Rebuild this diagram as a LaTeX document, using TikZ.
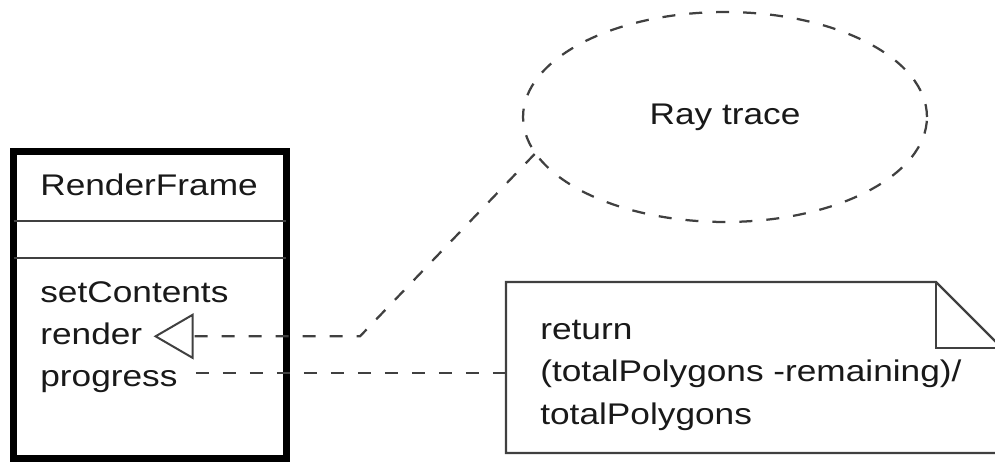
\documentclass[tikz,border=0pt]{standalone}
\usepackage{fontspec}
\setmainfont{Liberation Sans}[FakeStretch=1.18]
\usetikzlibrary{shapes.geometric,arrows.meta}

\begin{document}
\begin{tikzpicture}[x=0.02cm, y=-0.02cm, font=\fontsize{17}{24}\selectfont,
  txt/.style={anchor=base west, inner sep=0pt, text=black!90},
  thinline/.style={line width=0.045cm, draw=black!75},
  link/.style={thinline, dash pattern=on 0.26cm off 0.28cm}]
\clip (0,0) rectangle (995,463);
% class box
\node[draw, line width=0.14cm, anchor=north west, minimum width=5.46cm, minimum height=6.16cm, inner sep=0pt, outer sep=0pt] (frame) at (13.5,151) {};
\draw[thinline] (frame.west |- 0,221) -- (frame.east |- 0,221); % name / attributes
\draw[thinline] (frame.west |- 0,258) -- (frame.east |- 0,258); % attributes / operations
\node[txt] (name) at (40,195) {RenderFrame};
\node[txt] (setc) at (40,302) {setContents};
\node[txt] (render) at (40,344) {render};
\node[txt] (progress) at (40,386) {progress};

% use case
\node[ellipse, draw, link, minimum width=8.08cm, minimum height=4.2cm, inner sep=0pt, text=black!90] (ray) at (725,117) {Ray trace};

% note
\node[anchor=north west, minimum width=9.92cm, minimum height=3.42cm, inner sep=0pt, outer sep=0pt] (note) at (506,282) {};
\draw[thinline] (note.north west) -- ([xshift=-1.32cm]note.north east) -- ([yshift=-1.32cm]note.north east) -- (note.south east) -- (note.south west) -- cycle;
\draw[thinline] ([xshift=-1.32cm]note.north east) |- ([yshift=-1.32cm]note.north east); % fold
\node[txt, align=left] (notetext) at (540,424) {return\\(totalPolygons -remaining)/\\totalPolygons};

% connectors
\coordinate (bend) at ([yshift=-0.06cm]render.east -| 360,0);
\draw[link, -{Triangle[open, length=0.8cm, width=0.92cm, line width=0.04cm]}, shorten >=0.22cm] (ray.191) -- (bend) -- ([yshift=-0.06cm]render.east);
\draw[link, shorten <=0.36cm] ([yshift=0.16cm]progress.east) -- ([yshift=0.16cm]note.west |- progress.east);
\end{tikzpicture}
\end{document}
